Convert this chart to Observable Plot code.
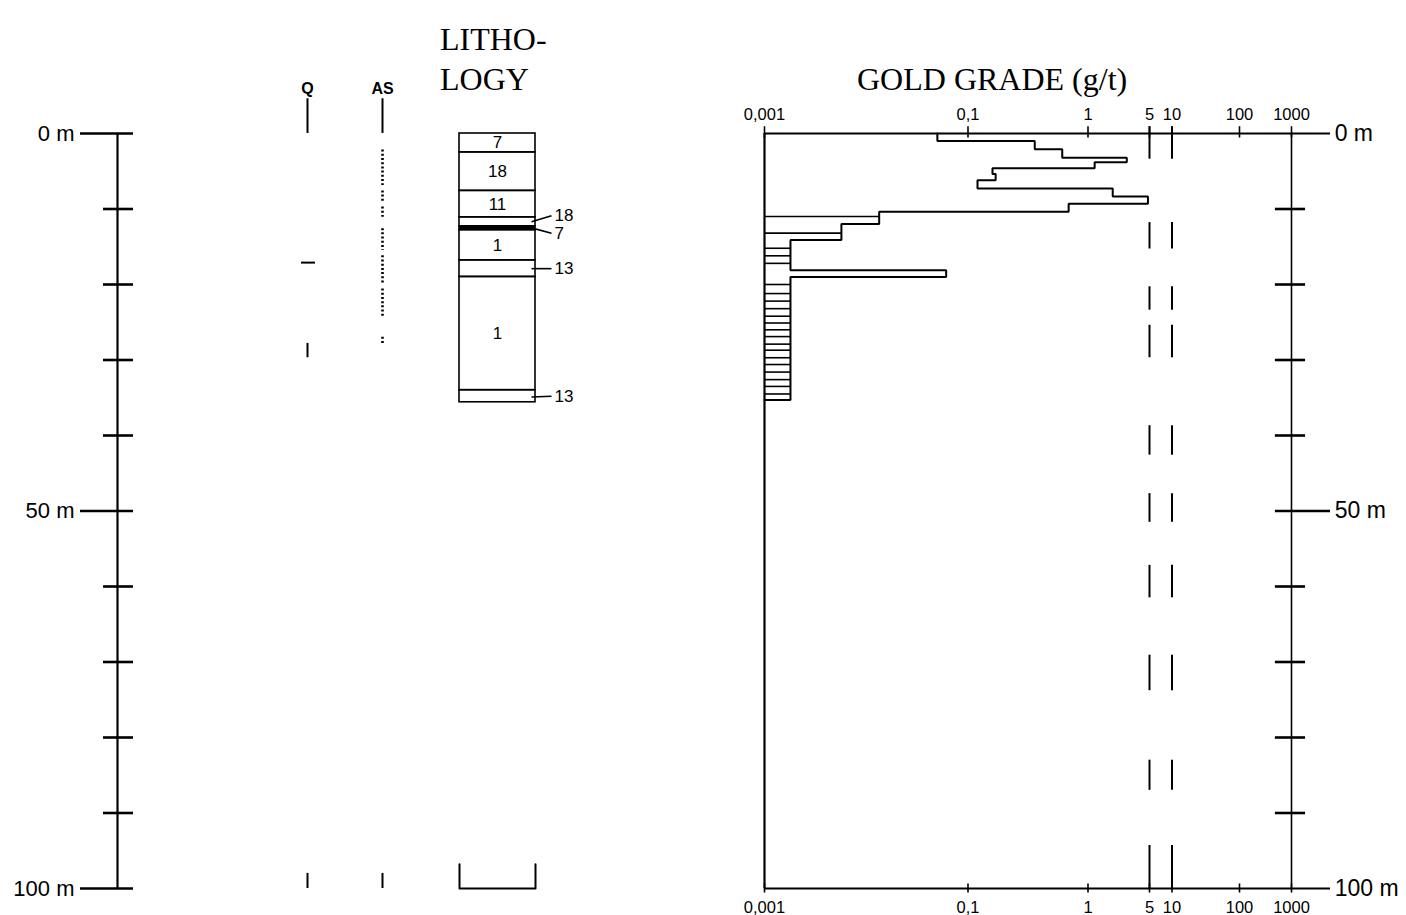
<!DOCTYPE html>
<html><head><meta charset="utf-8">
<script src="https://cdn.jsdelivr.net/npm/d3@7"></script>
<script src="https://cdn.jsdelivr.net/npm/@observablehq/plot@0.6"></script>
<style>
html,body{margin:0;padding:0;background:#fff;}
#fig{position:relative;width:1406px;height:915px;overflow:hidden;background:#fff;}
#fig svg{position:absolute;left:0;top:0;}
.title{position:absolute;font-family:"Liberation Serif","Times New Roman",serif;font-size:32px;line-height:32px;color:#000;white-space:nowrap;}
</style></head><body>
<div id="fig">
<div class="title" style="left:440px;top:23px">LITHO-</div>
<div class="title" style="left:440px;top:63px">LOGY</div>
<div class="title" style="left:857px;top:63px">GOLD GRADE (g/t)</div>
</div>
<script>
// ---------------- DATA ----------------
const depthTicks = [0, 10, 20, 30, 40, 50, 60, 70, 80, 90, 100];
const depthLabelValues = [0, 50, 100];
const depthLabelTexts = ["0 m", "50 m", "100 m"];

// Q column (quartz): single thin mark and one interval
const qLines = [17.1];
const qIntervals = [[27.8, 29.7]];
// AS column: dotted intervals (m)
const asIntervals = [[2.2, 6.9], [7.6, 9.1], [9.75, 11.1], [12.6, 15.5], [16.2, 19.9], [20.6, 24.5], [27.0, 28.1]];
const columnNames = ["Q", "AS"];

// Lithology layers
const lithTop = [0, 2.5, 7.6, 11.1, 12.3, 12.8, 16.8, 19.0, 34.0];
const lithBottom = [2.5, 7.6, 11.1, 12.3, 12.8, 16.8, 19.0, 34.0, 35.6];
const lithCode = ["7", "18", "11", "18", "7", "1", "13", "1", "13"];
// callouts for thin layers
const calloutCode = ["18", "7", "13", "13"];
const calloutLayerDepth = [11.7, 12.5, 17.9, 34.9];
const calloutLabelDepth = [10.9, 13.2, 17.9, 34.8];

// Gold grade samples (g/t)
const sampleTop = [0, 1.0, 2.1, 3.2, 3.8, 4.6, 5.35, 6.2, 7.3, 8.35, 9.3, 10.35, 12.0, 14.1, 18.1, 19.0];
const sampleGrade = [0.05, 0.36, 0.61, 2.76, 1.19, 0.16, 0.17, 0.12, 1.91, 4.8, 0.69, 0.0134, 0.0057, 0.0018, 0.061, 0.0018];
const sampleEnd = 35.3;
const sampleSeparators = [11.0, 13.2, 15.2, 16.2, 17.2, 20.0, 21.2, 22.2, 23.2, 24.2, 25.1, 26.0, 26.9, 27.9, 28.7, 29.7, 30.6, 31.6, 32.6, 33.5, 34.5];

const gradeTicks = [0.001, 0.1, 1, 5, 10, 100, 1000];
const gradeTickLabels = ["0,001", "0,1", "1", "5", "10", "100", "1000"];
const thresholdGrades = [5, 10];
const thresholdDashes = [[-0.9, 3.4], [11.8, 15.3], [20.3, 23.4], [25.4, 29.7], [38.7, 42.6], [47.7, 51.5], [57.2, 61.5], [69.1, 73.8], [83.0, 87.0], [94.3, 100]];

// ---------------- LAYOUT ----------------
const yScale = {domain: [0, 100], range: [133, 888], axis: null};
const font = "Liberation Sans, Arial, sans-serif";
const L = {axis: 117, tickIn: 103, tickOut: 133, labTick: 80, labelX: 74,
           cols: {Q: 307, AS: 382}, lith1: 459, lith2: 535,
           leaderFrom: 531, leaderTo: 551, calloutX: 554, header: -4.6, endMark: 98};
const lg = v => Math.log10(v);
const xGold = {type: "linear", domain: [0.001, 0.1, 1, 5, 10, 100, 1000].map(lg),
               range: [764, 967.5, 1087.5, 1149, 1171.5, 1239, 1291], axis: null};
const G = {left: lg(0.001), axisEnd: 3.75, tickA: 2.69, tickB: 3.27, label: 3.83};

// ---------------- LEFT PANEL ----------------
const lith = lithCode.map((c, i) => ({code: c, from: lithTop[i], to: lithBottom[i]}));
const callouts = calloutCode.map((c, i) => ({code: c, d0: calloutLayerDepth[i], d1: calloutLabelDepth[i]}));
const asSegs = asIntervals.map(([a, b]) => ({a, b}));
const qSegs = qIntervals.map(([a, b]) => ({a, b}));

const left = Plot.plot({
  width: 1406, height: 915,
  x: {domain: [0, 1406], range: [0, 1406], axis: null},
  y: yScale,
  style: {background: "transparent", fontFamily: font, overflow: "visible"},
  marks: [
    // depth axis
    Plot.ruleX([0], {x: L.axis, y1: 0, y2: 100, strokeWidth: 2.2}),
    Plot.ruleY(depthTicks.filter(d => !depthLabelValues.includes(d)), {y: d => d, x1: L.tickIn, x2: L.tickOut, strokeWidth: 2.6}),
    Plot.ruleY(depthLabelValues, {y: d => d, x1: L.labTick, x2: L.tickOut, strokeWidth: 2.4}),
    Plot.text(depthLabelValues, {y: d => d, x: L.labelX, text: (d, i) => depthLabelTexts[i], textAnchor: "end", fontSize: 22}),
    // column headers & end marks
    Plot.ruleX(columnNames, {x: c => L.cols[c], y1: L.header, y2: 0, strokeWidth: 2}),
    Plot.ruleX(columnNames, {x: c => L.cols[c], y1: L.endMark, y2: 100, strokeWidth: 2}),
    Plot.text(columnNames, {x: c => L.cols[c], y: 0, dy: -45, text: c => c, fontSize: 16, fontWeight: "bold"}),
    // Q
    Plot.ruleY(qLines, {y: d => d, x1: L.cols.Q - 6, x2: L.cols.Q + 8, strokeWidth: 2}),
    Plot.ruleX(qSegs, {x: L.cols.Q, y1: "a", y2: "b", strokeWidth: 2}),
    // AS dotted
    Plot.ruleX(asSegs, {x: L.cols.AS, y1: "a", y2: "b", strokeWidth: 2.6, strokeDasharray: "2,2.2"}),
    // lithology
    Plot.rect(lith, {x1: L.lith1, x2: L.lith2, y1: "from", y2: "to", stroke: "black", strokeWidth: 1.6,
                     fill: d => (d.to - d.from) < 1 ? "black" : "none"}),
    Plot.text(lith.filter(d => d.to - d.from > 2.3), {x: (L.lith1 + L.lith2) / 2, y: d => (d.from + d.to) / 2, text: "code", fontSize: 17}),
    Plot.link(callouts, {x1: L.leaderFrom, y1: "d0", x2: L.leaderTo, y2: "d1", strokeWidth: 1.6}),
    Plot.text(callouts, {x: L.calloutX, y: "d1", text: "code", textAnchor: "start", fontSize: 17}),
    // lithology end bracket
    Plot.line([{x: L.lith1, y: 96.8}, {x: L.lith1, y: 100}, {x: L.lith2, y: 100}, {x: L.lith2, y: 96.8}], {x: "x", y: "y", strokeWidth: 2})
  ]
});

// ---------------- GOLD PANEL ----------------
const outline = [];
sampleTop.forEach((t, i) => {
  const b = i + 1 < sampleTop.length ? sampleTop[i + 1] : sampleEnd;
  outline.push({g: sampleGrade[i], d: t}, {g: sampleGrade[i], d: b});
});
outline.push({g: 0.001, d: sampleEnd});
const gradeAt = d => {
  let g = sampleGrade[0];
  sampleTop.forEach((t, i) => { if (t <= d) g = sampleGrade[i]; });
  return g;
};
const dashes = thresholdGrades.flatMap(g => thresholdDashes.map(([a, b]) => ({g, a, b})));
const ticksIdx = gradeTicks.map((g, i) => ({g, label: gradeTickLabels[i]}));

const gold = Plot.plot({
  width: 1406, height: 915,
  x: xGold,
  y: yScale,
  style: {background: "transparent", fontFamily: font, overflow: "visible"},
  marks: [
    Plot.ruleX([G.left], {x: d => d, y1: 0, y2: 100, strokeWidth: 2.2}),
    Plot.ruleY([0, 100], {y: d => d, x1: G.left, x2: G.axisEnd, strokeWidth: 2.2}),
    Plot.ruleX([lg(1000)], {x: d => d, y1: 0, y2: 100, strokeWidth: 1.6}),
    Plot.ruleY(depthTicks.filter(d => d > 0 && d < 100 && d !== 50), {y: d => d, x1: G.tickA, x2: G.tickB, strokeWidth: 2.6}),
    Plot.ruleY([50], {y: d => d, x1: G.tickA, x2: G.axisEnd, strokeWidth: 2.4}),
    Plot.text(depthLabelValues, {y: d => d, x: G.label, text: (d, i) => depthLabelTexts[i], textAnchor: "start", fontSize: 23}),
    // grade ticks
    Plot.ruleX(ticksIdx, {x: d => lg(d.g), y1: -0.9, y2: 0.6, strokeWidth: 1.6}),
    Plot.ruleX(ticksIdx, {x: d => lg(d.g), y1: 99.4, y2: 100.6, strokeWidth: 1.6}),
    Plot.text(ticksIdx, {x: d => lg(d.g), y: 0, dy: -19, text: "label", fontSize: 16.5}),
    Plot.text(ticksIdx, {x: d => lg(d.g), y: 100, dy: 19, text: "label", fontSize: 16.5}),
    // threshold dashed lines
    Plot.ruleX(dashes, {x: d => lg(d.g), y1: "a", y2: "b", strokeWidth: 2}),
    // gold grade profile
    Plot.ruleY(sampleSeparators, {y: d => d, x1: G.left, x2: d => lg(gradeAt(d)), strokeWidth: 1.6}),
    Plot.line(outline, {x: p => lg(p.g), y: "d", strokeWidth: 2, strokeLinejoin: "miter"})
  ]
});

document.getElementById("fig").append(left, gold);
</script>
</body></html>
